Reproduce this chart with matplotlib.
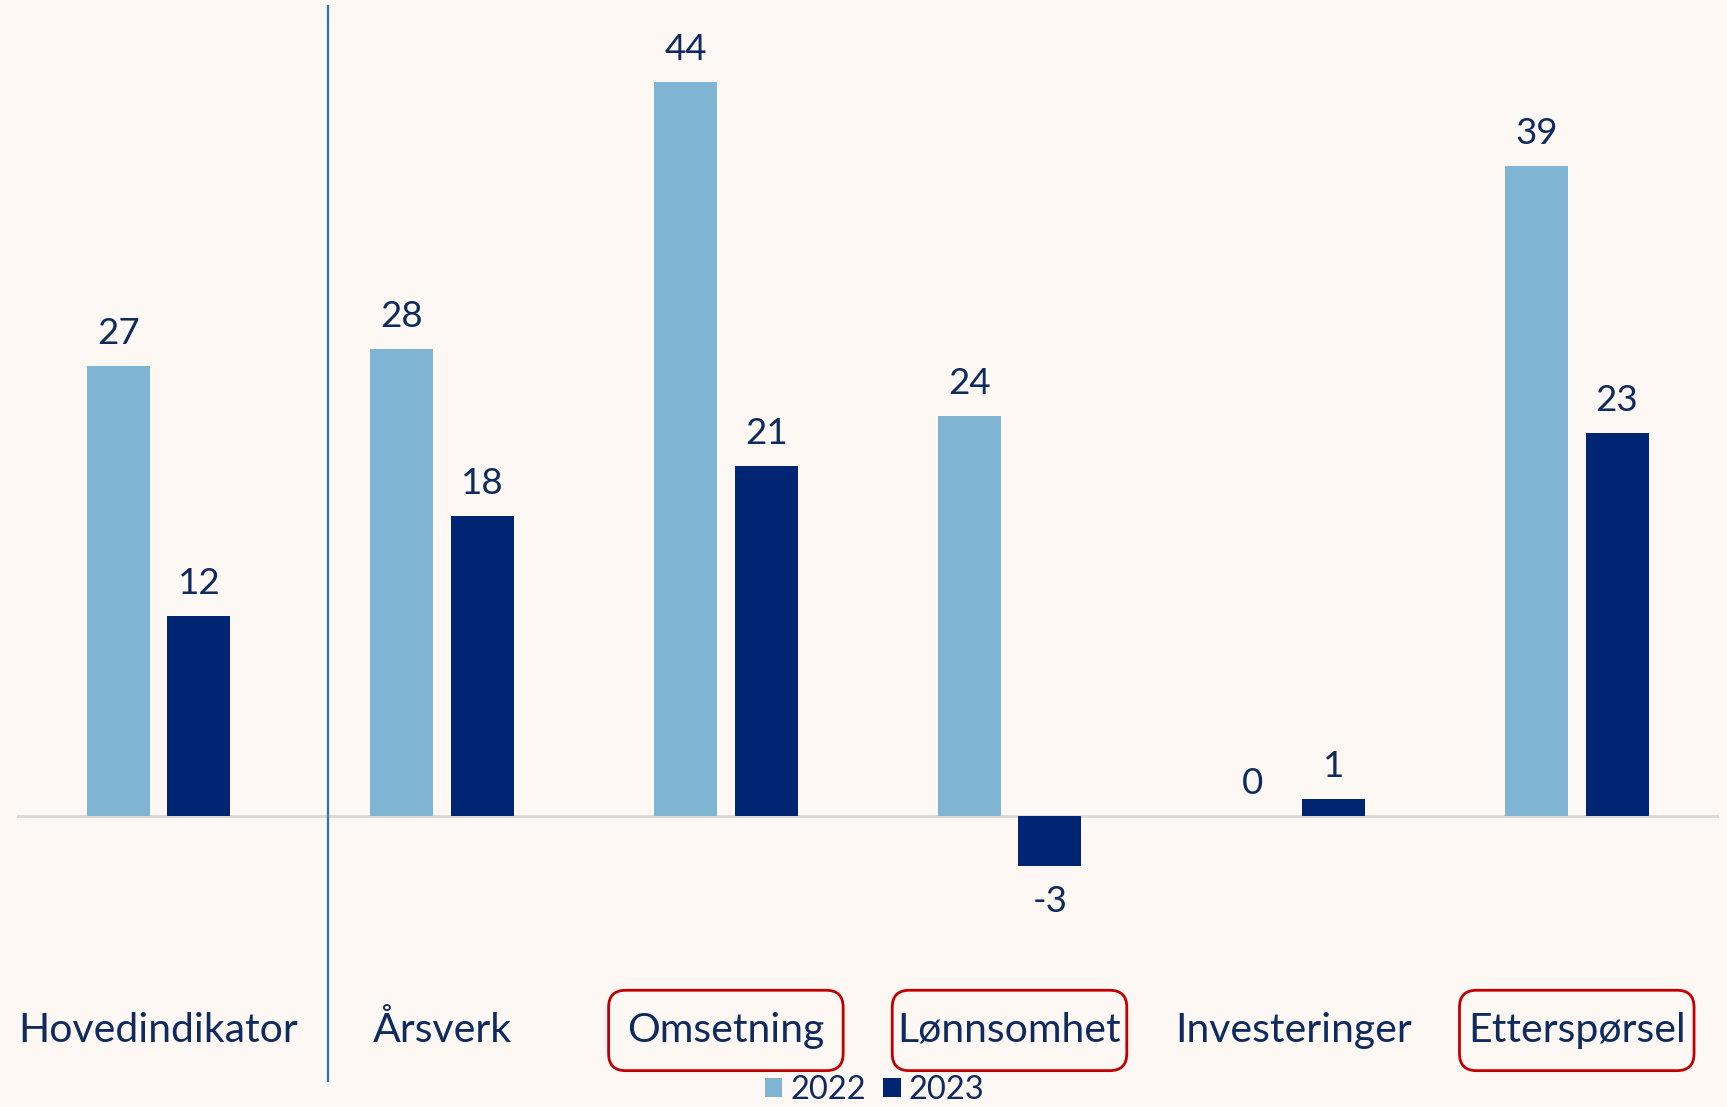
import matplotlib
matplotlib.use("Agg")
import matplotlib.pyplot as plt
from matplotlib.patches import FancyBboxPatch
import numpy as np

# Data
categories = ["Hovedindikator", "Årsverk", "Omsetning", "Lønnsomhet",
              "Investeringer", "Etterspørsel"]
values_2022 = [27, 28, 44, 24, 0, 39]
values_2023 = [12, 18, 21, -3, 1, 23]
series_names = ["2022", "2023"]
boxed = ["Omsetning", "Lønnsomhet", "Etterspørsel"]

bg = "#fdf8f4"
light = "#7fb5d3"
dark = "#002673"
text_col = "#0e2a5e"
box_red = "#c00000"

plt.rcParams["font.family"] = ["Lato", "DejaVu Sans"]

fig = plt.figure(figsize=(17.27, 11.07), dpi=100, facecolor=bg)
ax = fig.add_axes([0.00973, 0, 0.9854, 1])
ax.set_facecolor(bg)

x = np.arange(len(categories))
w = 0.222
off = 0.142
ax.bar(x - off, values_2022, width=w, color=light, label=series_names[0], zorder=2)
ax.bar(x + off, values_2023, width=w, color=dark, label=series_names[1], zorder=2)

# value labels
for xs, vals in ((x - off, values_2022), (x + off, values_2023)):
    for xi, v in zip(xs, vals):
        if v >= 0:
            ax.text(xi, v + 1.95, str(v), ha="center", va="center",
                    fontsize=26.5, color=text_col)
        else:
            ax.text(xi, v - 2.1, str(v), ha="center", va="center",
                    fontsize=26.5, color=text_col)

# zero line
ax.axhline(0, color="#d9d9d9", lw=2, zorder=1)

# separator after the main indicator
ax.plot([0.598, 0.598], [48.6, -15.9], color="#2a72b5", lw=1.6, zorder=3,
        clip_on=False)

# category labels, some in rounded red boxes
label_y = -12.85
for xi, cat in zip(x, categories):
    ax.text(xi, label_y, cat, ha="center", va="center", fontsize=29.5,
            color=text_col)
    if cat in boxed:
        bw, bh = 0.827, 4.82
        box = FancyBboxPatch((xi - bw / 2, label_y - bh / 2), bw, bh,
                             boxstyle="round,pad=0,rounding_size=0.06",
                             mutation_aspect=17, fc="none", ec=box_red,
                             lw=2, zorder=3, clip_on=False)
        ax.add_patch(box)

ax.set_xlim(-0.5, 5.5)
ax.set_ylim(-17.44, 48.94)
ax.axis("off")

leg = ax.legend(loc="lower center", bbox_to_anchor=(0.504, -0.013), ncol=2,
                frameon=False, fontsize=23.5, handlelength=0.55,
                handleheight=0.55, handletextpad=0.25, columnspacing=0.5,
                borderpad=0)
for t in leg.get_texts():
    t.set_color(text_col)

fig.savefig("out.png", dpi=100, facecolor=bg)
